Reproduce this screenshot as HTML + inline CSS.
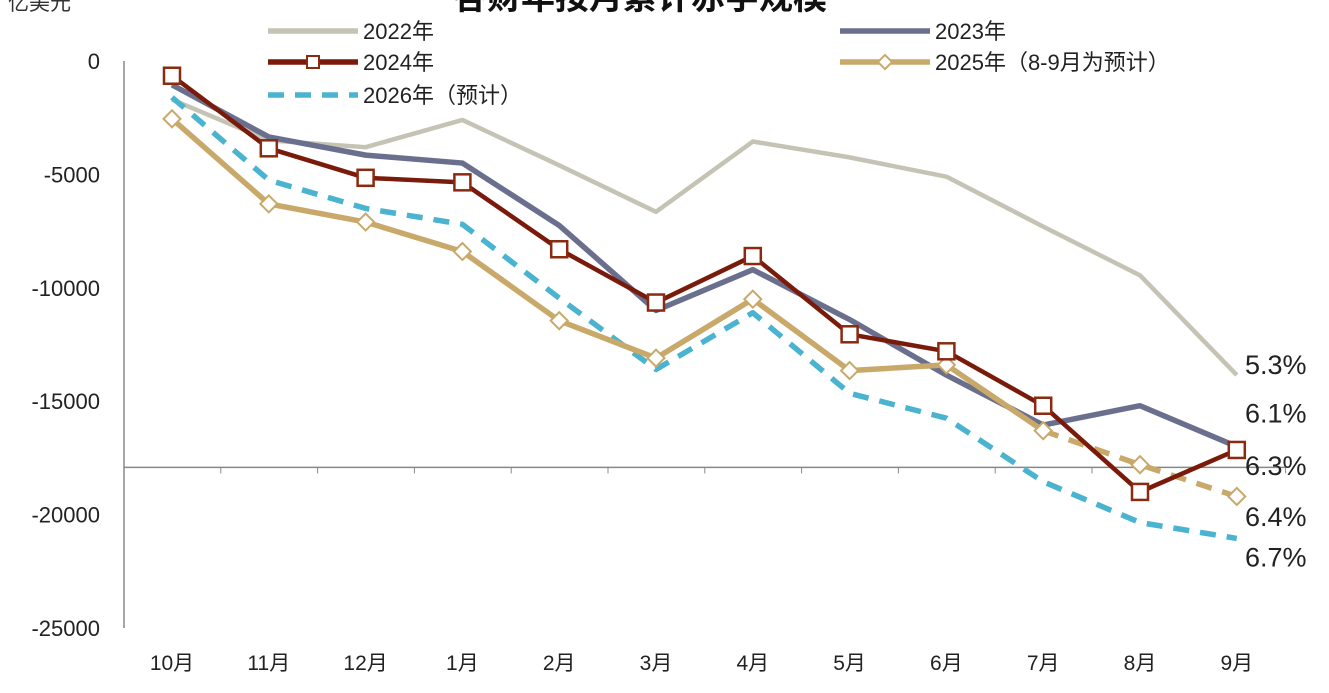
<!DOCTYPE html>
<html><head><meta charset="utf-8"><style>
body{margin:0;background:#fff;overflow:hidden}
svg{display:block;font-family:"Liberation Sans","Noto Sans CJK SC",sans-serif}
</style></head><body>
<svg id="c" width="1329" height="693">
<text x="640" y="9" font-size="34" font-weight="bold" text-anchor="middle" fill="#111">各财年按月累计赤字规模</text>
<text x="8" y="10" font-size="21" fill="#333">亿美元</text>
<g id="axes"></g><g id="series"></g><g id="legend"></g>
</svg>
<script>
const categories=["10月","11月","12月","1月","2月","3月","4月","5月","6月","7月","8月","9月"];
const yTicks=[0,-5000,-10000,-15000,-20000,-25000];
const s2022=[-1700,-3500,-3800,-2600,-4600,-6650,-3550,-4250,-5100,-7300,-9450,-13850];
const s2023=[-1050,-3350,-4150,-4500,-7250,-11000,-9200,-11400,-13850,-16050,-15200,-17000];
const s2024=[-650,-3850,-5150,-5350,-8300,-10650,-8600,-12050,-12800,-15200,-19000,-17150];
const s2025=[-2550,-6300,-7100,-8400,-11450,-13100,-10500,-13650,-13400,-16300,-17800,-19200];
const s2026=[-1600,-5250,-6500,-7200,-10450,-13600,-11100,-14650,-15750,-18550,-20350,-21050];
const endLabels=["5.3%","6.1%","6.3%","6.4%","6.7%"];
const endLabelY=[-13400,-15550,-17850,-20100,-21900];
const xAxisValue=-17920;
const NS="http://www.w3.org/2000/svg";
const X=i=>172+i*96.8, Y=v=>61-v/5000*113.4;
function el(t,a,p){const e=document.createElementNS(NS,t);for(const k in a)e.setAttribute(k,a[k]);p.appendChild(e);return e;}
const ax=document.getElementById('axes'),sg=document.getElementById('series'),lg=document.getElementById('legend');
let e=el('line',{x1:124,x2:124,y1:Y(0),y2:Y(-25000),stroke:'#888','stroke-width':1.5},ax);

yTicks.forEach(v=>{const t=el('text',{x:100,y:Y(v)+8,'font-size':22,'text-anchor':'end',fill:'#222'},ax);t.textContent=v;
});
const ya=Y(xAxisValue);
e=el('line',{x1:124,x2:1285,y1:ya,y2:ya,stroke:'#888','stroke-width':1.5},ax);

categories.forEach((c,i)=>{const tx=124+(i+1)*96.8;el('line',{x1:tx,x2:tx,y1:ya,y2:ya+6,stroke:'#888'},ax);
const t=el('text',{x:X(i),y:670,'font-size':21,'text-anchor':'middle',fill:'#222'},ax);t.textContent=c;
});
function pts(a,s,e2){return a.slice(s,e2).map((v,i)=>X(i+s)+','+Y(v)).join(' ');}
function line(a,col,w,dash,name,s=0,e2=12){const p=el('polyline',{points:pts(a,s,e2),fill:'none',stroke:col,'stroke-width':w,'stroke-linejoin':'round','stroke-dasharray':dash||'none'},sg);
}
line(s2022,'#c4c3b4',4.5,null,'line-2022');
line(s2023,'#6a6f8e',5.5,null,'line-2023');
line(s2026,'#4ab3cf',5.5,'16,11','line-2026');
line(s2025,'#c9a96a',5.5,null,'line-2025',0,10);
line(s2025,'#c9a96a',5.5,'16,11','line-2025-forecast',9,12);
line(s2024,'#7a1a0a',4.5,null,'line-2024');
s2025.forEach((v,i)=>{const m=el('rect',{x:-6,y:-6,width:12,height:12,fill:'#fff',stroke:'#c9a96a','stroke-width':2,transform:`translate(${X(i)},${Y(v)}) rotate(45)`},sg);
});
s2024.forEach((v,i)=>{const m=el('rect',{x:X(i)-8,y:Y(v)-8,width:16,height:16,fill:'#fff',stroke:'#8a2a10','stroke-width':2.5},sg);
});
endLabels.forEach((l,i)=>{const t=el('text',{x:1245,y:Y(endLabelY[i])+9,'font-size':27,fill:'#222'},sg);t.textContent=l;
});
const L=[["2022年",268,31,'#c4c3b4',null,null],["2024年",268,62,'#7a1a0a',null,'sq'],["2026年（预计）",268,95,'#4ab3cf','16,11',null],
["2023年",840,31,'#6a6f8e',null,null],["2025年（8-9月为预计）",840,62,'#c9a96a',null,'dm']];
L.forEach(([n,x,y,c,d,m])=>{const g=el('g',{},lg);
el('line',{x1:x,x2:x+90,y1:y,y2:y,stroke:c,'stroke-width':5.5,'stroke-dasharray':d||'none'},g);
if(m==='sq')el('rect',{x:x+39,y:y-6,width:12,height:12,fill:'#fff',stroke:'#8a2a10','stroke-width':2},g);
if(m==='dm')el('rect',{x:-5,y:-5,width:10,height:10,fill:'#fff',stroke:c,'stroke-width':2,transform:`translate(${x+45},${y}) rotate(45)`},g);
const t=el('text',{x:x+95,y:y+8,'font-size':22,fill:'#222'},g);t.textContent=n;});
</script>
</body></html>
